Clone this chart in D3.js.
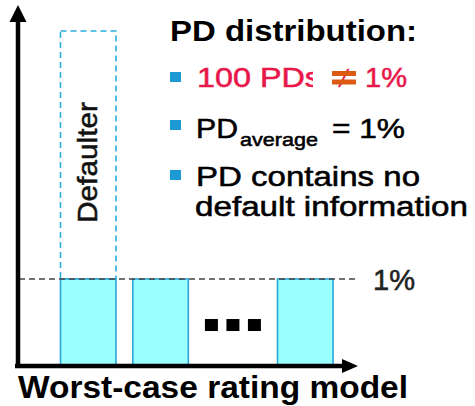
<!DOCTYPE html>
<html>
<head>
<meta charset="utf-8">
<script src="https://cdn.jsdelivr.net/npm/d3@7"></script>
<style>
  body { margin: 0; background: #fff; }
  text { font-family: "Liberation Sans", Arial, sans-serif; }
  .reg { stroke-width: 0.55; paint-order: stroke; }
</style>
</head>
<body>
<svg id="chart"></svg>
<script>
// bars shown in the worst-case rating model (every PD equals 1%)
var categories = ["PD 1", "PD 2", "...", "PD 100"];
var pdValues = [1, 1, null, 1];
var defaulterValue = 3.85;   // dashed "Defaulter" box height, in % units
var refLevel = 1;            // dashed 1% line
var refLabel = "1%";

var title = "PD distribution:";
var line1 = ["100 PDs", "\u2260", "1%"];
var line2 = ["PD", "average", "= 1%"];
var line3 = ["PD contains no", "default information"];
var xTitle = "Worst-case rating model";

var width = 475, height = 406;

var svg = d3.select("#chart")
    .attr("width", width)
    .attr("height", height);

var x = d3.scaleBand()
    .domain(categories)
    .range([60.5, 333])
    .paddingInner(0.233)
    .paddingOuter(0);

var y = d3.scaleLinear()
    .domain([0, 4])
    .range([366, 18]);

var blue = "#2aaee0";

// defaulter dashed box above the first bar
svg.append("rect")
    .attr("x", x(categories[0]))
    .attr("y", y(defaulterValue))
    .attr("width", x.bandwidth())
    .attr("height", y(refLevel) - y(defaulterValue))
    .attr("fill", "none")
    .attr("stroke", blue)
    .attr("stroke-width", 1.6)
    .attr("stroke-dasharray", "6,4");

svg.append("text")
    .attr("class", "reg")
    .attr("transform", "translate(" + (x(categories[0]) + x.bandwidth() / 2 + 9) + "," + (y(refLevel) - 56) + ") rotate(-90)")
    .attr("font-size", 28)
    .attr("textLength", 121)
    .attr("lengthAdjust", "spacingAndGlyphs")
    .attr("fill", "#111").attr("stroke", "#111")
    .text("Defaulter");

// bars
var barData = categories.map(function (c, i) { return { cat: c, v: pdValues[i] }; });

svg.append("g")
    .selectAll("rect")
    .data(barData.filter(function (d) { return d.v != null; }))
    .enter().append("rect")
    .attr("x", function (d) { return x(d.cat); })
    .attr("y", function (d) { return y(d.v); })
    .attr("width", x.bandwidth())
    .attr("height", function (d) { return y(0) - y(d.v); })
    .attr("fill", "#99ffff")
    .attr("stroke", "#2aa6d8")
    .attr("stroke-width", 1.6);

// "..." squares in the gap band
var gap = barData.filter(function (d) { return d.v == null; })[0];
var gx = x(gap.cat) + x.bandwidth() / 2;
svg.append("g")
    .selectAll("rect")
    .data([-1, 0, 1])
    .enter().append("rect")
    .attr("x", function (d) { return gx - 6.5 + d * 21.5; })
    .attr("y", y(0.54))
    .attr("width", 13)
    .attr("height", 12)
    .attr("fill", "#000");

// 1% reference line
svg.append("line")
    .attr("x1", 19).attr("x2", 358)
    .attr("y1", y(refLevel)).attr("y2", y(refLevel))
    .attr("stroke", "#444")
    .attr("stroke-width", 1.5)
    .attr("stroke-dasharray", "6,4");

svg.append("text")
    .attr("class", "reg")
    .attr("x", 373)
    .attr("y", y(refLevel) + 11)
    .attr("font-size", 29)
    .attr("textLength", 42)
    .attr("lengthAdjust", "spacingAndGlyphs")
    .attr("fill", "#222").attr("stroke", "#222")
    .text(refLabel);

// axes with arrow heads
svg.append("line")
    .attr("x1", 18).attr("x2", 18)
    .attr("y1", y(0) + 2).attr("y2", 20)
    .attr("stroke", "#000").attr("stroke-width", 4.5);
svg.append("path")
    .attr("d", "M18,5 L9.5,22 L26.5,22 Z")
    .attr("fill", "#000");

svg.append("line")
    .attr("x1", 15).attr("x2", 344)
    .attr("y1", y(0)).attr("y2", y(0))
    .attr("stroke", "#000").attr("stroke-width", 4.5);
svg.append("path")
    .attr("d", "M358," + y(0) + " L342," + (y(0) - 7) + " L342," + (y(0) + 7) + " Z")
    .attr("fill", "#000");

svg.append("text")
    .attr("x", 18)
    .attr("y", 398)
    .attr("font-size", 32)
    .attr("font-weight", "bold")
    .attr("textLength", 390)
    .attr("lengthAdjust", "spacingAndGlyphs")
    .attr("fill", "#000")
    .text(xTitle);

// legend text block
var red = "#e8174a";
svg.append("text")
    .attr("x", 170).attr("y", 41)
    .attr("font-size", 29)
    .attr("font-weight", "bold")
    .attr("textLength", 247)
    .attr("lengthAdjust", "spacingAndGlyphs")
    .attr("fill", "#000")
    .text(title);

svg.append("g")
    .selectAll("rect")
    .data([72, 120, 170])
    .enter().append("rect")
    .attr("x", 170).attr("y", function (d) { return d; })
    .attr("width", 11).attr("height", 10)
    .attr("fill", "#1c9ad6");

// line 1: 100 PDs != 1%   (the "s" is cut off in the original)
svg.append("clipPath").attr("id", "clipPDs")
    .append("rect").attr("x", 190).attr("y", 50).attr("width", 123).attr("height", 50);

svg.append("text")
    .attr("class", "reg")
    .attr("clip-path", "url(#clipPDs)")
    .attr("x", 197).attr("y", 87)
    .attr("font-size", 28)
    .attr("textLength", 124)
    .attr("lengthAdjust", "spacingAndGlyphs")
    .attr("fill", red).attr("stroke", red)
    .text(line1[0]);

svg.append("text")
    .attr("x", 344).attr("y", 88)
    .attr("text-anchor", "middle")
    .attr("font-size", 30)
    .attr("fill", red)
    .text(line1[1]);
svg.append("rect").attr("x", 332).attr("y", 71).attr("width", 24).attr("height", 5).attr("fill", "#dc5a12");
svg.append("rect").attr("x", 332).attr("y", 79.5).attr("width", 24).attr("height", 5).attr("fill", "#dc5a12");

svg.append("text")
    .attr("class", "reg")
    .attr("x", 365).attr("y", 87)
    .attr("font-size", 28)
    .attr("textLength", 42)
    .attr("lengthAdjust", "spacingAndGlyphs")
    .attr("fill", red).attr("stroke", red)
    .text(line1[2]);

// line 2: PD_average = 1%
function regText(tx, ty, size, len, str) {
    return svg.append("text")
        .attr("class", "reg")
        .attr("x", tx).attr("y", ty)
        .attr("font-size", size)
        .attr("textLength", len)
        .attr("lengthAdjust", "spacingAndGlyphs")
        .attr("fill", "#000").attr("stroke", "#000")
        .text(str);
}

regText(196, 138, 28, 42, line2[0]);
regText(240, 146, 19, 78, line2[1]);
regText(332, 138, 28, 73, line2[2]);

// line 3 / 4
regText(196, 186, 28, 224, line3[0]);
regText(195, 216, 28, 273, line3[1]);
</script>
</body>
</html>
